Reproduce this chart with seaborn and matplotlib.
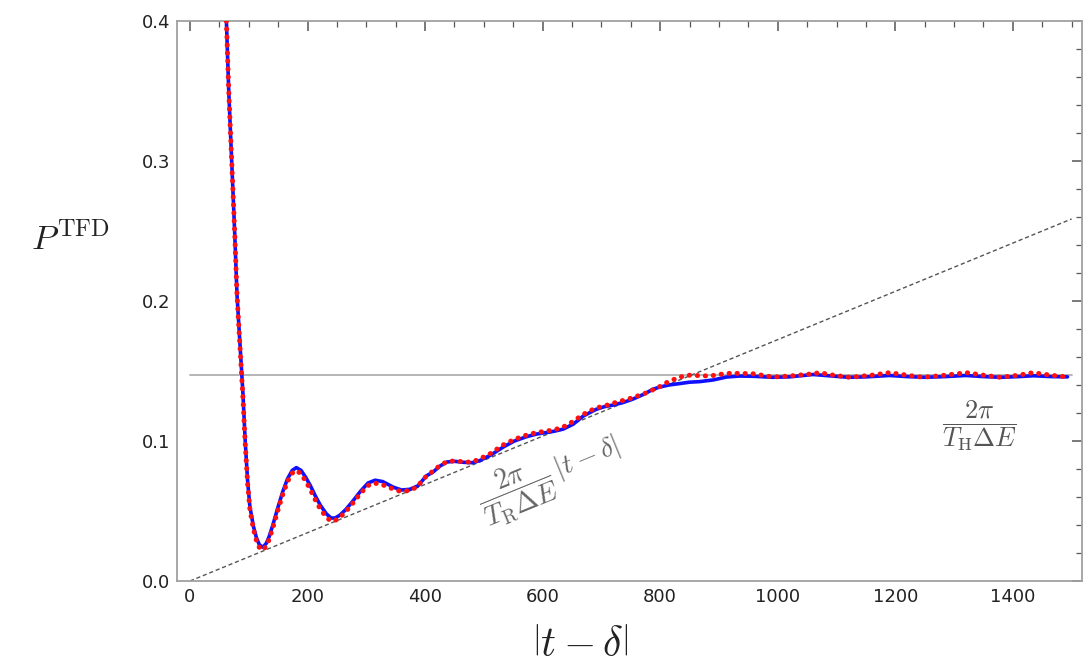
import numpy as np
import pandas as pd
import matplotlib
matplotlib.use("Agg")
import matplotlib.pyplot as plt
import seaborn as sns
from matplotlib.ticker import MultipleLocator, FormatStrFormatter

# ---------------- data ----------------
t_blue = [62, 66, 71, 76, 80, 85, 90, 94, 98, 102, 108, 113, 118, 124, 130, 135, 141,
          150, 158, 166, 174, 181, 189, 197, 205, 213, 222, 232, 240, 247, 255, 265,
          277, 290, 303, 315, 328, 346, 360, 374, 388, 402, 414, 425, 437, 450, 465,
          480, 493, 512, 533, 552, 572, 590, 606, 620, 635, 652, 669, 691, 705, 720,
          737, 754, 770, 788, 799, 815, 833, 850, 867, 890, 913, 935, 960, 990, 1020,
          1060, 1090, 1120, 1150, 1190, 1220, 1250, 1285, 1320, 1350, 1380, 1410,
          1435, 1465, 1493]
p_blue = [0.400, 0.350, 0.300, 0.250, 0.205, 0.170, 0.135, 0.100, 0.072, 0.053, 0.039,
          0.031, 0.026, 0.024, 0.027, 0.032, 0.040, 0.053, 0.064, 0.073, 0.079, 0.081,
          0.079, 0.074, 0.068, 0.061, 0.054, 0.048, 0.045, 0.045, 0.047, 0.051, 0.057,
          0.064, 0.070, 0.072, 0.071, 0.067, 0.065, 0.0655, 0.068, 0.075, 0.078, 0.082,
          0.085, 0.0855, 0.0848, 0.0845, 0.086, 0.090, 0.0957, 0.100, 0.103, 0.105,
          0.106, 0.107, 0.1085, 0.112, 0.1178, 0.1226, 0.1245, 0.1257, 0.1275, 0.130,
          0.133, 0.137, 0.1385, 0.140, 0.141, 0.142, 0.1424, 0.1436, 0.1457, 0.1464,
          0.1462, 0.1455, 0.1458, 0.1475, 0.1465, 0.1455, 0.1458, 0.1468, 0.146,
          0.1455, 0.146, 0.1468, 0.146, 0.1455, 0.146, 0.1466, 0.146, 0.1458]

t_red = [62, 66, 71, 76, 80, 85, 90, 94, 98, 102, 108, 113, 118, 124, 130, 135, 141,
         150, 158, 166, 174, 180, 188, 196, 204, 212, 221, 231, 239, 246, 254, 264,
         276, 289, 302, 313, 326, 344, 358, 372, 386, 400, 412, 424, 436, 449, 464,
         479, 492, 511, 532, 551, 571, 589, 605, 620, 635, 652, 669, 690, 705, 720,
         737, 754, 777, 800, 811, 833, 850, 884, 913, 935, 958, 992, 1020, 1060,
         1071, 1095, 1122, 1160, 1190, 1220, 1247, 1285, 1321, 1350, 1378, 1410,
         1434, 1465, 1493]
p_red = [0.400, 0.350, 0.300, 0.250, 0.205, 0.168, 0.132, 0.098, 0.070, 0.051, 0.037,
         0.029, 0.024, 0.022, 0.025, 0.030, 0.038, 0.051, 0.062, 0.071, 0.077, 0.079,
         0.077, 0.072, 0.066, 0.059, 0.052, 0.046, 0.043, 0.043, 0.045, 0.049, 0.055,
         0.062, 0.068, 0.070, 0.069, 0.066, 0.064, 0.0645, 0.067, 0.074, 0.078, 0.082,
         0.085, 0.0858, 0.0852, 0.0848, 0.087, 0.091, 0.097, 0.101, 0.104, 0.106,
         0.107, 0.108, 0.110, 0.114, 0.119, 0.1235, 0.125, 0.127, 0.129, 0.131,
         0.1345, 0.139, 0.1417, 0.1457, 0.147, 0.1464, 0.1483, 0.1483, 0.148, 0.1457,
         0.1464, 0.148, 0.1488, 0.147, 0.1455, 0.147, 0.1488, 0.147, 0.1455, 0.147,
         0.1488, 0.147, 0.1455, 0.147, 0.1488, 0.147, 0.1457]

t_span = [0, 1500]
plateau = 0.147          # 2*pi / (T_H dE)
ramp = [0.0, 0.2586]     # 2*pi/(T_R dE) |t - delta| at t_span ends

x_ticks = [0, 200, 400, 600, 800, 1000, 1200, 1400]
y_ticks = [0.0, 0.1, 0.2, 0.3, 0.4]

# ---------------- plot ----------------
sns.set_theme(style="white")
plt.rcParams["font.family"] = ["DejaVu Sans"]
plt.rcParams["mathtext.fontset"] = "cm"

fig = plt.figure(figsize=(10.86, 6.72), dpi=100)
ax = fig.add_axes([0.163, 0.1354, 0.8335, 0.8334])

df_b = pd.DataFrame({"t": t_blue, "p": p_blue})
df_r = pd.DataFrame({"t": t_red, "p": p_red})
df_h = pd.DataFrame({"t": t_span, "p": [plateau, plateau]})
df_l = pd.DataFrame({"t": t_span, "p": ramp})

sns.lineplot(data=df_h, x="t", y="p", ax=ax, color="#b0b0b0", lw=1.3, zorder=1)
sns.lineplot(data=df_l, x="t", y="p", ax=ax, color="#555555", lw=1.0,
             linestyle=(0, (3, 2)), zorder=2)
sns.lineplot(data=df_b, x="t", y="p", ax=ax, color="#1010ff", lw=2.6, zorder=3,
             sort=False)
sns.lineplot(data=df_r, x="t", y="p", ax=ax, color="#ff1010", lw=3.6,
             zorder=4, sort=False)
line_red = ax.lines[-1]
line_red.set_linestyle((0, (0.05, 1.55)))
line_red.set_dash_capstyle("round")

ax.set_xlim(-22, 1518)
ax.set_ylim(0, 0.4)
ax.set_xticks(x_ticks)
ax.set_yticks(y_ticks)
ax.xaxis.set_minor_locator(MultipleLocator(50))
ax.yaxis.set_minor_locator(MultipleLocator(0.02))
ax.yaxis.set_major_formatter(FormatStrFormatter("%.1f"))

for s in ax.spines.values():
    s.set_color("#a0a0a0")
    s.set_linewidth(1.3)
ax.tick_params(which="both", direction="in", top=True, right=True,
               colors="#555555", labelcolor="#222222", labelsize=13)
ax.tick_params(which="major", length=7, width=1.1, pad=5)
ax.tick_params(which="minor", length=4, width=0.9)

ax.set_xlabel(r"$\left|t-\delta\right|$", fontsize=30, color="#222222",
              va="center")
ax.xaxis.set_label_coords(0.445, -0.113)
ax.set_ylabel(r"$P^{\rm TFD}$", fontsize=25, rotation=0, color="#222222",
              va="center")
ax.yaxis.set_label_coords(-0.118, 0.61)

ax.text(612, 0.074, r"$\dfrac{2\pi}{T_{\rm R}\Delta E}\,|t-\delta|$", fontsize=20,
        color="#666666", rotation=22.3, ha="center", va="center",
        rotation_mode="anchor")
ax.text(1343, 0.111, r"$\dfrac{2\pi}{T_{\rm H}\Delta E}$", fontsize=19,
        color="#555555", ha="center", va="center")

fig.savefig("out.png", dpi=100, facecolor="white")
